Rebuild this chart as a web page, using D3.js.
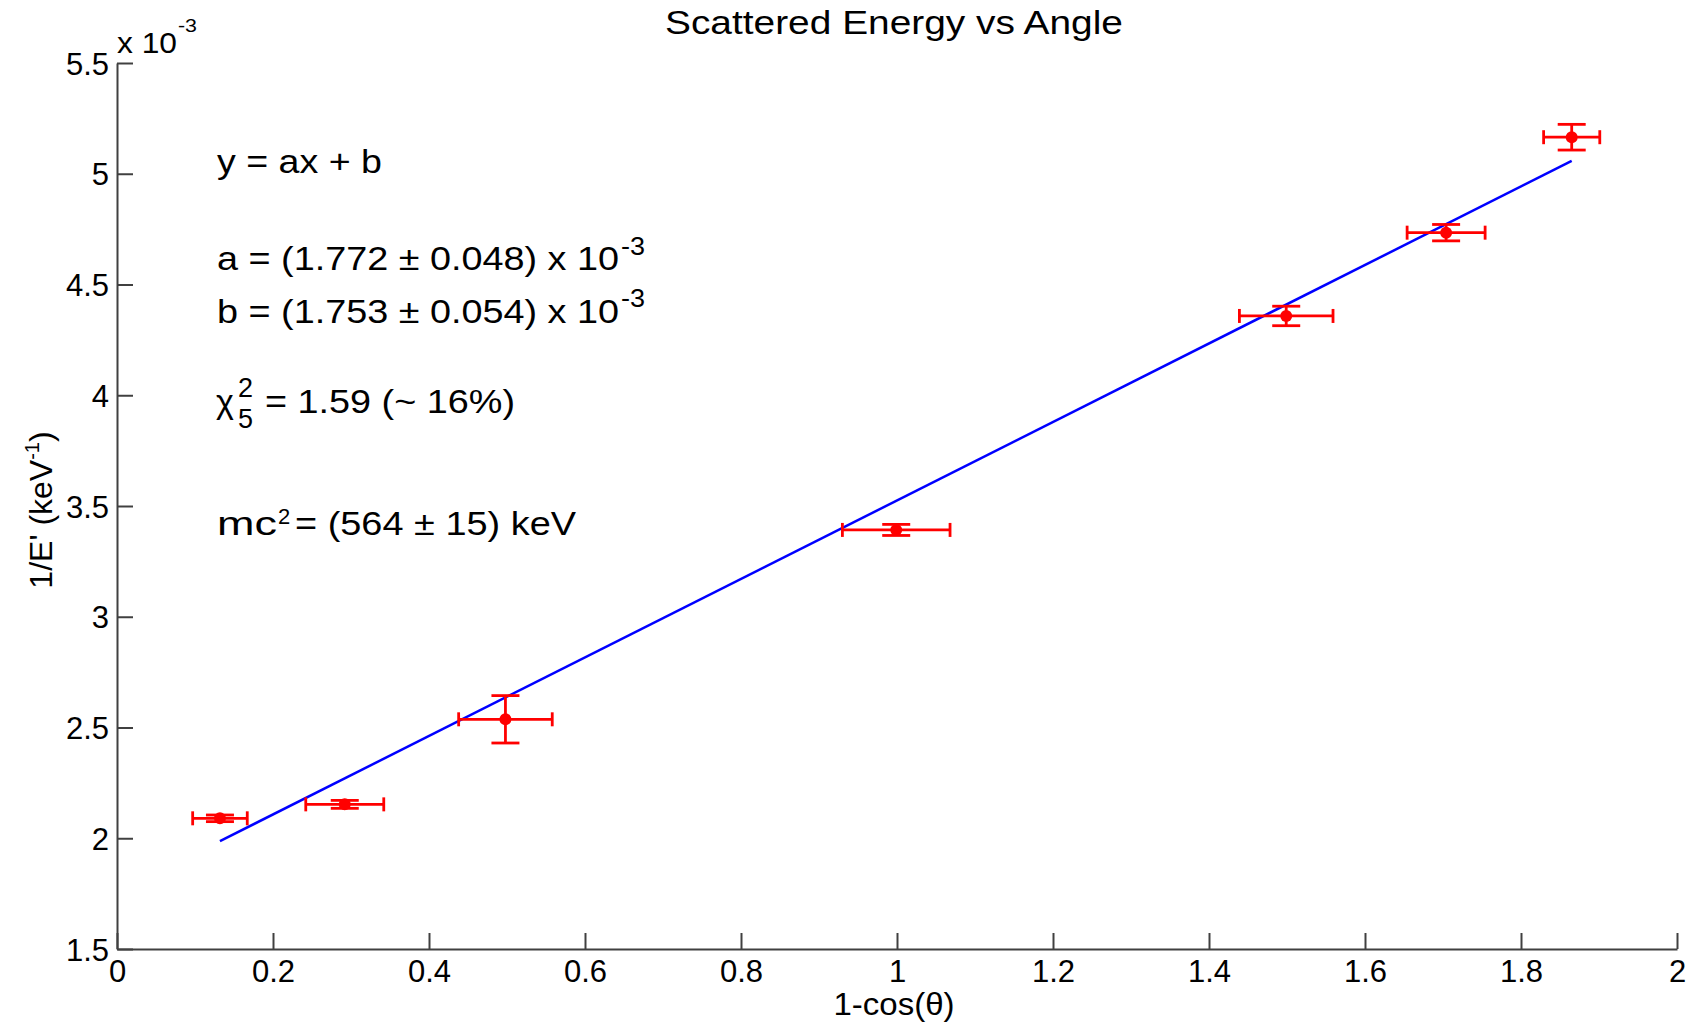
<!DOCTYPE html>
<html>
<head>
<meta charset="utf-8">
<script src="https://cdn.jsdelivr.net/npm/d3@7"></script>
<style>
  body { margin: 0; background: #fff; }
  text { font-family: "Liberation Sans", Arial, sans-serif; fill: #000; }
</style>
</head>
<body>
<svg id="base" width="1705" height="1023"></svg>
<script>
// measured points (y in units of 1e-3 keV^-1)
let xVals = [0.132, 0.292, 0.498, 0.999, 1.499, 1.704, 1.865]
let yVals = [2.090, 2.153, 2.537, 3.392, 4.358, 4.734, 5.165]
let xErr = [0.035, 0.050, 0.060, 0.069, 0.060, 0.050, 0.036]
let yErr = [0.015, 0.018, 0.107, 0.025, 0.044, 0.037, 0.058]

// fit y = a x + b
let fitA = 1.772
let fitB = 1.753

let xTicks = [0, 0.2, 0.4, 0.6, 0.8, 1, 1.2, 1.4, 1.6, 1.8, 2]
let yTicks = [1.5, 2, 2.5, 3, 3.5, 4, 4.5, 5, 5.5]

const W = 1705, H = 1023
const margin = {left: 117, top: 63, right: 28, bottom: 74}
const base = d3.select('#base')

let x = d3.scaleLinear().domain([0, 2]).range([margin.left, W - margin.right])
let y = d3.scaleLinear().domain([1.5, 5.5]).range([H - margin.bottom, margin.top])

const fmt = d3.format("~g")
const tickLen = 16
const axisCol = '#404040'

// axes (ticks point inward, matlab style)
let xAxis = base.append('g')
    .attr('transform', 'translate(0,' + (H - margin.bottom) + ')')
    .call(d3.axisBottom(x).tickValues(xTicks).tickFormat(fmt).tickSizeInner(-tickLen).tickSizeOuter(0).tickPadding(11))
let yAxis = base.append('g')
    .attr('transform', 'translate(' + margin.left + ',0)')
    .call(d3.axisLeft(y).tickValues(yTicks).tickFormat(fmt).tickSizeInner(-tickLen).tickSizeOuter(0).tickPadding(8))

;[xAxis, yAxis].forEach(a => {
    a.select('.domain').style('stroke', axisCol).style('stroke-width', 2)
    a.selectAll('.tick line').style('stroke', axisCol).style('stroke-width', 2)
    a.selectAll('.tick text').style('font-size', '31px').attr('fill', '#000')
        .style('font-family', '"Liberation Sans", Arial, sans-serif')
})
xAxis.selectAll('.tick text').attr('dy', '0.71em')
yAxis.selectAll('.tick text').attr('dy', '0.36em')

// text piece, optionally stretched to a measured width (matlab fonts run wide)
function label(x0, y0, t, size, w, anchor) {
    let el = base.append('text')
        .attr('x', x0).attr('y', y0)
        .attr('text-anchor', anchor || 'start')
        .style('font-size', size + 'px')
        .text(t)
    if (w) el.attr('textLength', w).attr('lengthAdjust', 'spacingAndGlyphs')
    return el
}

// fit line over the data range
let x1 = d3.min(xVals), x2 = d3.max(xVals)
base.append('line')
    .attr('x1', x(x1)).attr('y1', y(fitA * x1 + fitB))
    .attr('x2', x(x2)).attr('y2', y(fitA * x2 + fitB))
    .style('stroke', '#0000ff').style('stroke-width', 2.5)

// error bars + markers
const red = '#ff0000'
const hCap = 7, vCap = 14
let pts = base.append('g').style('stroke', red).style('stroke-width', 2.8)
xVals.forEach((xv, i) => {
    let yv = yVals[i]
    let px = x(xv), py = y(yv)
    let xl = x(xv - xErr[i]), xr = x(xv + xErr[i])
    let yt = y(yv + yErr[i]), yb = y(yv - yErr[i])
    pts.append('line').attr('x1', xl).attr('x2', xr).attr('y1', py).attr('y2', py)
    pts.append('line').attr('x1', xl).attr('x2', xl).attr('y1', py - hCap).attr('y2', py + hCap)
    pts.append('line').attr('x1', xr).attr('x2', xr).attr('y1', py - hCap).attr('y2', py + hCap)
    pts.append('line').attr('x1', px).attr('x2', px).attr('y1', yt).attr('y2', yb)
    pts.append('line').attr('x1', px - vCap).attr('x2', px + vCap).attr('y1', yt).attr('y2', yt)
    pts.append('line').attr('x1', px - vCap).attr('x2', px + vCap).attr('y1', yb).attr('y2', yb)
    pts.append('circle').attr('cx', px).attr('cy', py).attr('r', 6)
        .style('fill', red).style('stroke', 'none')
})

// title and axis labels
const midX = (margin.left + W - margin.right) / 2
label(894, 34, 'Scattered Energy vs Angle', 33, 458, 'middle')
label(894, 1015, '1-cos(θ)', 32, 121, 'middle')

let yl = base.append('text')
    .attr('transform', 'translate(52,' + ((margin.top + H - margin.bottom) / 2 + 4) + ') rotate(-90)')
    .attr('text-anchor', 'middle').style('font-size', '32px')
yl.append('tspan').text("1/E' (keV")
yl.append('tspan').attr('dy', -13).style('font-size', '20px').text('-1')
yl.append('tspan').attr('dy', 13).text(')')

// exponent label on the y axis
label(117, 53, 'x 10', 30, 60)
label(178, 32, '-3', 18, 19)

// fit results
const fs = 34
label(217, 173, 'y = ax + b', fs, 165)
label(217, 270, 'a = (1.772 ± 0.048) x 10', fs, 402)
label(621, 255, '-3', 26, 24)
label(217, 323, 'b = (1.753 ± 0.054) x 10', fs, 402)
label(621, 307, '-3', 26, 24)
label(216, 413, 'χ', fs)
label(238, 397, '2', 27)
label(238, 428, '5', 27)
label(265, 413, '= 1.59 (~ 16%)', fs, 250)
label(217, 535, 'mc', fs, 60)
label(278, 524, '2', 22)
label(295, 535, '= (564 ± 15) keV', fs, 281)
</script>
</body>
</html>
